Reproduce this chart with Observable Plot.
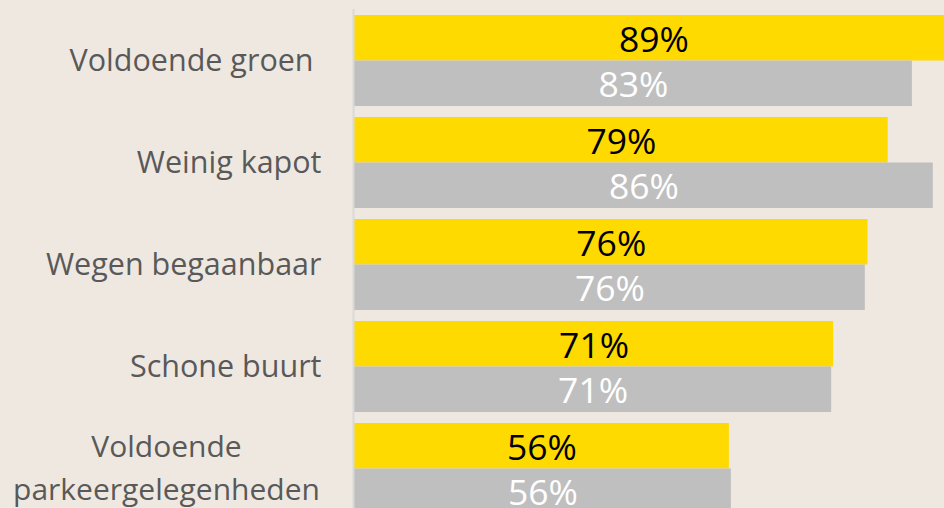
<!DOCTYPE html>
<html>
<head>
<meta charset="utf-8">
<script src="https://cdn.jsdelivr.net/npm/d3@7"></script>
<script src="https://cdn.jsdelivr.net/npm/@observablehq/plot@0.6"></script>
<style>
  html, body { margin: 0; padding: 0; background: #EFE8E1; overflow: hidden; }
  #chart svg { overflow: hidden; display: block; }
</style>
</head>
<body>
<div id="chart"></div>
<script>
// Categories (top to bottom)
const categories = ["Voldoende groen", "Weinig kapot", "Wegen begaanbaar", "Schone buurt", "Voldoende parkeergelegenheden"];
// Tick labels as shown
const tickLabels = ["Voldoende groen ", "Weinig kapot", "Wegen begaanbaar", "Schone buurt", "Voldoende\nparkeergelegenheden"];
// Series values (%)
const yellowValues = [89.0, 79.3, 76.3, 71.2, 55.7];
const grayValues = [82.9, 86.0, 75.9, 70.9, 56.0];

const data = categories.map((c, i) => ({
  cat: c,
  label: tickLabels[i],
  a: yellowValues[i],
  b: grayValues[i]
}));

const single = data.filter(d => !d.label.includes("\n"));
const multi = data.filter(d => d.label.includes("\n"));

const chart = Plot.plot({
  width: 944,
  height: 508,
  marginLeft: 354,
  marginRight: 0,
  marginTop: 9,
  marginBottom: 0,
  style: { background: "#EFE8E1", fontFamily: "'Open Sans', sans-serif" },
  x: { domain: [0, 100], range: [354, 1027], axis: null },
  y: { domain: categories, range: [14, 515], paddingInner: 0.1122, paddingOuter: 0, axis: null },
  marks: [
    Plot.barX(data, { x: "a", y: "cat", fill: "#FFDA00", insetBottom: 45.5 }),
    Plot.barX(data, { x: "b", y: "cat", fill: "#BFBFBF", insetTop: 45.5 }),
    Plot.ruleX([0], { stroke: "#D9D9D9", strokeWidth: 2, dx: -1 }),
    Plot.text(data, { x: d => d.a / 2, y: "cat", text: d => Math.round(d.a) + "%", dy: -20, fill: "#000000", fontSize: 35.5 }),
    Plot.text(data, { x: d => d.b / 2, y: "cat", text: d => Math.round(d.b) + "%", dy: 25, fill: "#FFFFFF", fontSize: 35.5 }),
    Plot.text(single, { y: "cat", text: "label", frameAnchor: "left", textAnchor: "end", dx: -33, fill: "#595959", fontSize: 30.5 }),
    Plot.text(multi, { y: "cat", text: "label", frameAnchor: "left", textAnchor: "middle", dx: -188, dy: -4, fill: "#595959", fontSize: 30, lineHeight: 1.43 })
  ]
});
document.getElementById("chart").appendChild(chart);
</script>
</body>
</html>
